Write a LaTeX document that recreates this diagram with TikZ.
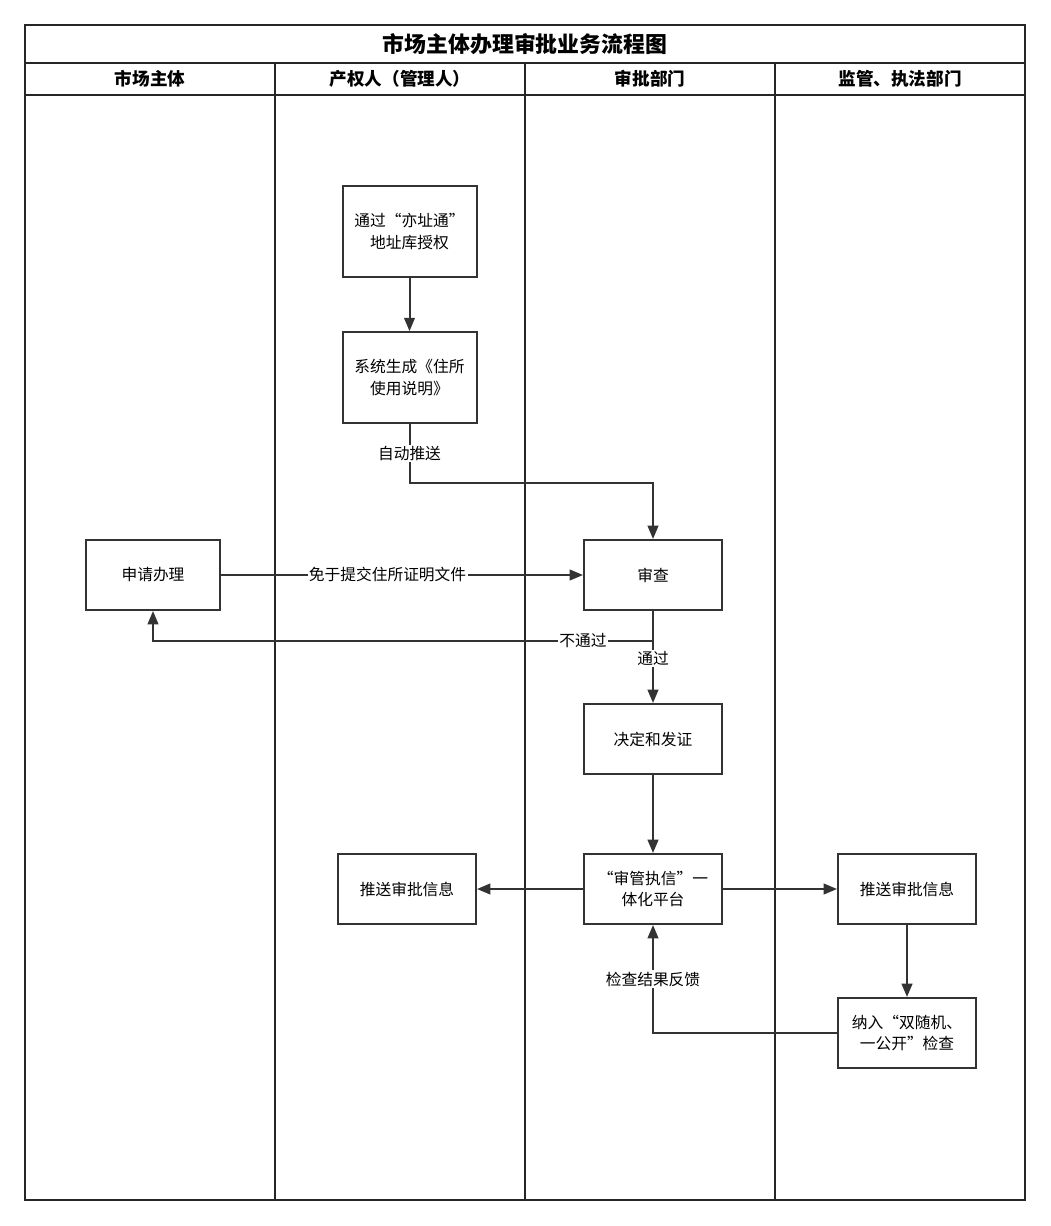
\documentclass[tikz,border=0pt]{standalone}
\usepackage{fontspec}
\setmainfont{Noto Sans CJK SC}
\usetikzlibrary{arrows.meta,positioning}
\tikzset{
  box/.style={draw=black!80,line width=1.5pt,minimum width=100.5pt,minimum height=52.5pt,align=center,inner sep=2pt,font=\fontsize{11.8}{16}\selectfont},
  flow/.style={draw=black!80,line width=1.5pt,-{Triangle[length=10pt,width=8pt]}},
  lbl/.style={fill=white,inner sep=1pt,font=\fontsize{11.8}{15}\selectfont},
  lane/.style={draw=black!85,line width=1.6pt},
  head/.style={font=\bfseries\fontsize{13.2}{15}\selectfont},
}
\begin{document}
\begin{tikzpicture}[x=0.75pt,y=-0.75pt]
  \useasboundingbox (0,0) rectangle (1050,1226);
  \draw[lane] (25,25) rectangle (1025,1200);
  \draw[lane] (25,63) -- (1025,63) (25,95) -- (1025,95);
  \foreach \x in {275,525,775} \draw[lane] (\x,63) -- (\x,1200);
  \node[font=\bfseries\fontsize{16.4}{19}\selectfont] (title) at (525,44) {市场主体办理审批业务流程图};
  \node[head] (h1) at (150,79) {市场主体};
  \node[head] (h2) at (400,79) {产权人（管理人）};
  \node[head] (h3) at (650,79) {审批部门};
  \node[head] (h4) at (900,79) {监管、执法部门};

  \node[box,minimum height=68pt] (auth) at (409.5,231.5) {通过“亦址通”\\地址库授权};
  \node[box,minimum height=68pt] (gen) at (409.5,377.5) {系统生成《住所\\使用说明》};
  \node[box] (apply) at (153,575) {申请办理};
  \node[box,minimum width=103.5pt] (check) at (653,575) {审查};
  \node[box,minimum width=103.5pt] (decide) at (653,739) {决定和发证};
  \node[box,minimum width=103.5pt] (plat) at (653,889) {“审管执信”一\\体化平台};
  \node[box,minimum width=103.5pt] (pushl) at (407,889) {推送审批信息};
  \node[box,minimum width=103.5pt] (pushr) at (907,889) {推送审批信息};
  \node[box,minimum width=103.5pt] (inc) at (907,1033) {纳入“双随机、\\一公开”检查};

  \draw[flow] (auth) -- (gen);
  \draw[flow] (gen.south) -- ++(0,59) node[lbl,pos=0.5]{自动推送} -| (check.north);
  \draw[flow] (apply) -- (check) node[lbl,pos=0.46]{免于提交住所证明文件};
  \draw[flow] (check.south) -- ++(0,30) -| (apply.south) node[lbl,pos=0.07]{不通过};
  \draw[flow] (check) -- (decide) node[lbl,pos=0.52]{通过};
  \draw[flow] (decide) -- (plat);
  \draw[flow] (plat) -- (pushl);
  \draw[flow] (plat) -- (pushr);
  \draw[flow] (pushr) -- (inc);
  \draw[flow] (inc.west) -| (plat.south) node[lbl,pos=0.75]{检查结果反馈};
\end{tikzpicture}
\end{document}
